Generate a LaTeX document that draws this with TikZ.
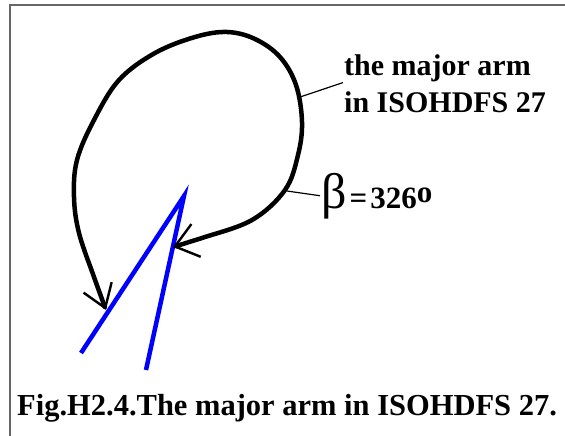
\documentclass[tikz,border=0pt]{standalone}
\usepackage{fontspec}
\setmainfont{Liberation Serif}
\usetikzlibrary{arrows.meta,positioning}

\begin{document}
\begin{tikzpicture}[
  x=1pt, y=-1pt,
  lbl/.style={inner sep=1pt, font=\fontsize{30}{30}\selectfont\bfseries},
  loopline/.style={line width=4.5pt, line cap=round, line join=round},
  barbs/.style={{Straight Barb[length=22pt, width=34pt, line width=2.4pt]}-{Straight Barb[length=22pt, width=30pt, line width=2.4pt]}},
  blueline/.style={draw=blue, line width=4.5pt},
  leader/.style={line width=1.2pt},
  frame/.style={draw=black!60, line width=2pt}
]
\useasboundingbox[fill=white] (0,0) rectangle (565,436);
\draw[frame] (10,440) |- (570,5);

% the two blue arms
\coordinate (lowa) at (81,353);
\coordinate (apex) at (184,196);
\coordinate (lowb) at (146,370);
\draw[blueline] (lowa) -- (apex) -- (lowb);

% the winding of the major arm
\coordinate (armpt) at (300,97);
\coordinate (betapt) at (287,191);
\draw[loopline, barbs] plot[smooth, tension=0.6] coordinates {
  (173,247) (202,238) (252,220) (285,190) (298,155) (302,122) (296,85)
  (280,57) (255,39) (227,32) (195,37) (155,53) (119,80) (94,120)
  (77,160) (74,197) (79,233) (94,277) (106,310)};

\node[lbl, anchor=base west] (arm1) at (343,75) {the major arm};
\node[lbl, anchor=base west] (arm2) at (343,113) {in ISOHDFS 27};
\node[lbl, anchor=base west] (beta) at (320,208)
  {{\fontsize{50}{50}\selectfont\mdseries β}{\fontsize{31}{31}\selectfont\kern3pt=\kern3pt 326\raisebox{6pt}{o}}};
\node[lbl, anchor=base west] (caption) at (16,415)
  {{\fontsize{30.5}{30.5}\selectfont Fig.H2.4.The major arm in ISOHDFS 27.}};

\draw[leader] (armpt) -- (arm1.south west);
\draw[leader] (betapt) -- (beta.west);

\end{tikzpicture}
\end{document}
